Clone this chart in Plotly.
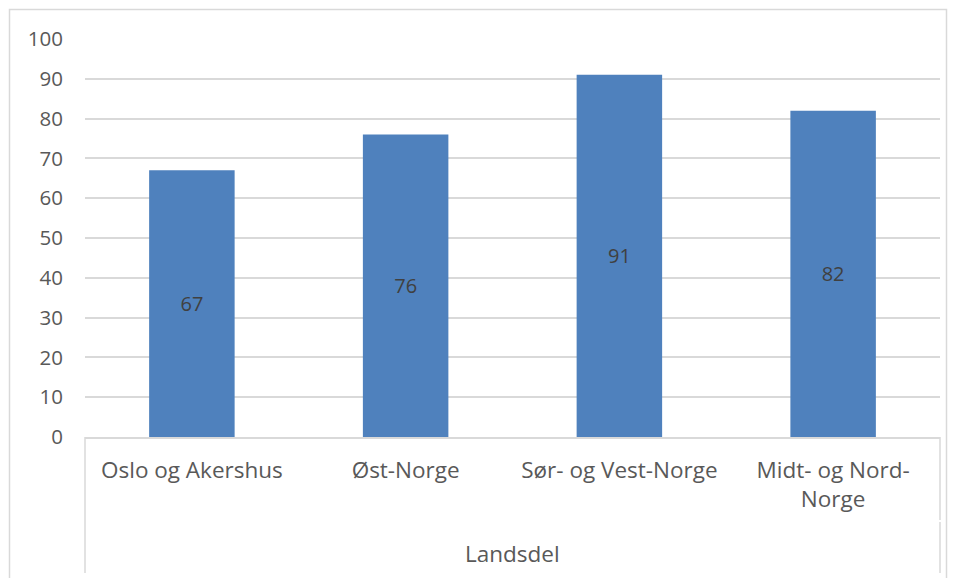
import plotly.graph_objects as go

categories = ["Oslo og Akershus", "Øst-Norge", "Sør- og Vest-Norge", "Midt- og Nord-Norge"]
tick_labels = ["Oslo og Akershus", "Øst-Norge", "Sør- og Vest-Norge", "Midt- og Nord-<br>Norge"]
values = [67, 76, 91, 82]
group_label = "Landsdel"
y_ticks = [0, 10, 20, 30, 40, 50, 60, 70, 80, 90, 100]

OFF = 8  # page offset of the plot div
W, H = 956 - OFF, 578 - OFF
# plot area in page pixels: x 85..940, y 39..437
L = 85 - OFF
T = 39 - OFF
R = W - (940 - OFF)
B = H - (437 - OFF)
pw, ph = W - L - R, H - T - B

def px_x(x):  # page pixel -> paper
    return (x - OFF - L) / pw

def px_y(y):  # page pixel -> paper
    return (H - B - (y - OFF)) / ph

FONT = "Open Sans"
TXT = "#595959"
GRID = "#d9d9d9"

fig = go.Figure(go.Bar(
    x=categories, y=values,
    marker=dict(color="#4f81bd", line=dict(width=0)),
    text=[str(v) for v in values],
    textposition="inside", insidetextanchor="middle",
    textangle=0, constraintext="none",
    textfont=dict(family=FONT, size=20, color="#404040"),
    width=0.4,
))

shapes = [
    dict(type="rect", xref="paper", yref="paper",
         x0=px_x(9.5), x1=px_x(946.5), y0=px_y(600), y1=px_y(9.5),
         line=dict(color=GRID, width=1.5), fillcolor="rgba(0,0,0,0)", layer="below"),
    dict(type="line", xref="paper", yref="paper",
         x0=0, x1=0, y0=px_y(437), y1=px_y(573), line=dict(color=GRID, width=1.5)),
    dict(type="line", xref="paper", yref="paper",
         x0=1, x1=1, y0=px_y(437), y1=px_y(520), line=dict(color=GRID, width=1.5)),
    dict(type="line", xref="paper", yref="paper",
         x0=1, x1=1, y0=px_y(522), y1=px_y(573), line=dict(color=GRID, width=1.5)),
]

fig.update_layout(
    width=W, height=H,
    margin=dict(l=L, r=R, t=T, b=B),
    paper_bgcolor="white", plot_bgcolor="white",
    showlegend=False,
    font=dict(family=FONT, size=20, color=TXT),
    bargap=0.6,
    xaxis=dict(
        type="category",
        tickmode="array", tickvals=categories, ticktext=tick_labels,
        showgrid=False, showline=True, linecolor=GRID, linewidth=1.5,
        ticks="", ticklabelstandoff=12,
        tickfont=dict(family=FONT, size=22.5, color=TXT),
        fixedrange=True,
    ),
    yaxis=dict(
        range=[0, 100], tickmode="array", tickvals=y_ticks,
        showgrid=True, gridcolor=GRID, gridwidth=1.5,
        zeroline=False, showline=False, ticks="",
        ticklabelstandoff=21,
        tickfont=dict(family=FONT, size=20.5, color=TXT),
    ),
    shapes=shapes,
    annotations=[dict(
        text=group_label, xref="paper", yref="paper",
        x=0.5, y=px_y(553), xanchor="center", yanchor="middle",
        showarrow=False, font=dict(family=FONT, size=22.5, color=TXT),
    )],
)

fig.write_html("out.html")
